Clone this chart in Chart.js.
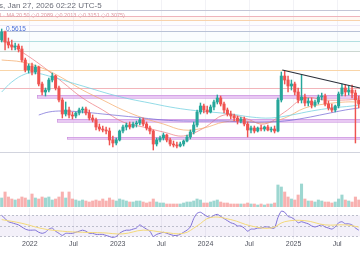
<!DOCTYPE html>
<html>
<head>
<meta charset="utf-8">
<script src="https://cdn.jsdelivr.net/npm/chart.js@4.4.1/dist/chart.umd.min.js"></script>
<style>
  body { margin: 0; background: #fff; width: 360px; height: 270px; overflow: hidden; position: relative; font-family: "Liberation Sans", Arial, sans-serif; }
  canvas { position: absolute; left: 0; }
  #price { top: 0; }
  #rsi { top: 208px; }
  .txt { position: absolute; white-space: nowrap; }
</style>
</head>
<body>
<canvas id="price" width="360" height="207"></canvas>
<canvas id="rsi" width="360" height="41"></canvas>
<div class="txt" style="left:-1px;top:1px;font-size:8px;color:#6a6d78">s, Jan 27, 2026 02:22 UTC-5</div>
<div class="txt" style="left:0;top:12px;font-size:5.5px;color:#dc9aa2">I · MA 20 50  ◇0.2089  ◇0.2013  ◇0.3151  ◇0.3075)</div>
<div class="txt" style="left:6px;top:25px;font-size:6.5px;color:#4a6fd8">0.5615</div>
<script>
// time: one candle every two weeks, first candle on START
const START = Date.UTC(2021, 8, 6);
const STEP = 14 * 86400000;
const idxOf = d => (Date.parse(d) - START) / STEP;
const VIEW_FROM = '2021-08-30';
const VIEW_TO = '2025-10-04';

const TICK_DATES = ['2022-01-01', '2022-07-01', '2023-01-01', '2023-07-01', '2024-01-01', '2024-07-01', '2025-01-01', '2025-07-01'];
const TICK_LABELS = ['2022', 'Jul', '2023', 'Jul', '2024', 'Jul', '2025', 'Jul'];

// candles
const OPEN = [
  .600, .640, .590, .575, .565, .570, .555, .500, .450, .470,
  .440, .465, .380, .340, .350, .400, .420, .360, .300, .230,
  .250, .225, .220, .235, .250, .255, .235, .210, .200, .165,
  .155, .150, .145, .100, .085, .100, .145, .165, .175, .165,
  .180, .185, .200, .180, .160, .145, .080, .100, .110, .125,
  .100, .080, .075, .070, .080, .095, .115, .140, .175, .240,
  .270, .250, .240, .265, .290, .310, .280, .250, .230, .220,
  .210, .195, .205, .180, .150, .160, .145, .160, .155, .165,
  .150, .155, .145, .300, .420, .400, .370, .380, .340, .300,
  .315, .285, .295, .275, .290, .315, .320, .280, .260, .250,
  .270, .330, .360, .340, .350, .335, .300
];
const HIGH = [
  .655, .645, .610, .600, .585, .580, .570, .510, .480, .485,
  .475, .470, .390, .360, .410, .435, .425, .370, .310, .290,
  .265, .240, .240, .260, .265, .265, .250, .225, .210, .180,
  .170, .165, .160, .120, .110, .150, .175, .185, .190, .190,
  .195, .210, .210, .190, .170, .150, .110, .120, .135, .130,
  .110, .095, .090, .090, .100, .125, .150, .190, .250, .285,
  .280, .270, .275, .300, .325, .320, .290, .260, .245, .230,
  .220, .215, .215, .190, .170, .170, .165, .175, .170, .175,
  .165, .170, .310, .440, .445, .420, .400, .390, .360, .425,
  .330, .310, .310, .300, .325, .335, .330, .295, .280, .275,
  .340, .380, .375, .370, .375, .350, .320
];
const LOW = [
  .590, .550, .560, .550, .550, .540, .490, .440, .435, .425,
  .430, .370, .325, .320, .340, .390, .350, .290, .210, .220,
  .210, .205, .210, .225, .235, .225, .200, .190, .150, .145,
  .140, .130, .075, .065, .075, .095, .135, .150, .155, .160,
  .165, .175, .170, .150, .130, .050, .070, .090, .100, .090,
  .070, .065, .060, .065, .070, .090, .105, .130, .165, .230,
  .235, .230, .235, .250, .280, .270, .235, .220, .205, .195,
  .180, .185, .170, .115, .135, .135, .140, .145, .145, .145,
  .140, .135, .140, .290, .380, .340, .350, .325, .285, .285,
  .270, .270, .260, .265, .280, .300, .270, .250, .240, .240,
  .260, .320, .320, .325, .310, .085, .260
];
const CLOSE = [
  .640, .590, .575, .565, .570, .555, .500, .450, .470, .440,
  .465, .380, .340, .350, .400, .420, .360, .300, .230, .250,
  .225, .220, .235, .250, .255, .235, .210, .200, .165, .155,
  .150, .145, .100, .085, .100, .145, .165, .175, .165, .180,
  .185, .200, .180, .160, .145, .080, .100, .110, .125, .100,
  .080, .075, .070, .080, .095, .115, .140, .175, .240, .270,
  .250, .240, .265, .290, .310, .280, .250, .230, .220, .210,
  .195, .205, .180, .150, .160, .145, .160, .155, .165, .150,
  .155, .145, .300, .420, .400, .370, .380, .340, .300, .315,
  .285, .295, .275, .290, .315, .320, .280, .260, .250, .270,
  .330, .360, .340, .350, .335, .300, .280
];
const VOLUME = [
  9, 15, 10, 8, 7, 8, 10, 9, 7, 13,
  9, 8, 10, 9, 10, 7, 8, 10, 15, 9,
  15, 8, 7, 6, 7, 6, 5, 6, 7, 6,
  8, 6, 9, 7, 6, 8, 7, 6, 5, 5,
  6, 6, 5, 4, 5, 8, 5, 4, 4, 3,
  3, 3, 3, 3, 4, 5, 5, 6, 8, 7,
  4, 4, 5, 6, 7, 5, 4, 4, 3, 3,
  3, 3, 3, 4, 3, 3, 2, 3, 2, 3,
  3, 4, 22, 20, 15, 10, 8, 7, 12, 23,
  8, 6, 6, 5, 7, 6, 5, 5, 4, 5,
  8, 12, 7, 6, 5, 10, 7
];
const RSI = [
  70, 64, 58, 56, 54, 52, 48, 44, 42, 42,
  42, 38, 36, 38, 44, 46, 40, 36, 32, 36,
  36, 36, 38, 40, 42, 40, 36, 36, 34, 34,
  34, 32, 30, 28, 30, 36, 40, 42, 42, 44,
  46, 52, 48, 44, 40, 30, 34, 36, 38, 36,
  34, 32, 32, 34, 38, 42, 48, 64, 74, 76,
  72, 68, 66, 70, 72, 68, 64, 60, 56, 54,
  50, 50, 46, 40, 44, 44, 46, 46, 48, 48,
  46, 46, 66, 78, 76, 68, 66, 62, 56, 58,
  56, 54, 50, 48, 50, 52, 48, 46, 44, 48,
  56, 58, 54, 54, 52, 46, 42
];

// moving averages, read at sample candles
const MA_RED_AT = [0, 6, 12, 18, 24, 30, 36, 42, 48, 54, 60, 66, 72, 78, 84, 90, 96, 102, 106];
const MA_RED = [.600, .540, .470, .390, .310, .250, .190, .165, .140, .120, .160, .225, .210, .180, .240, .310, .300, .300, .305];
const MA_ORANGE_AT = [0, 6, 12, 18, 24, 30, 36, 42, 48, 54, 60, 66, 72, 78, 84, 90, 96, 102, 106];
const MA_ORANGE = [.500, .490, .460, .410, .350, .300, .250, .210, .180, .150, .160, .190, .195, .185, .210, .260, .280, .290, .290];
const MA_TEAL_AT = [0, 3, 7, 10, 14, 20, 26, 32, 38, 44, 50, 56, 62, 68, 74, 80, 86, 92, 98, 104, 106];
const MA_TEAL = [.340, .390, .430, .435, .420, .390, .360, .330, .305, .285, .265, .250, .240, .230, .215, .210, .225, .245, .260, .270, .275];
const MA_PURPLE_AT = [11, 14, 18, 24, 30, 36, 42, 48, 54, 60, 66, 72, 78, 84, 90, 96, 102, 106];
const MA_PURPLE = [.225, .240, .245, .240, .230, .220, .210, .200, .195, .195, .195, .190, .190, .195, .210, .230, .250, .260];
const RSI_MA_AT = [0, 6, 12, 18, 24, 30, 36, 42, 48, 54, 58, 62, 68, 74, 80, 84, 90, 96, 102, 106];
const RSI_MA = [62, 55, 45, 40, 38, 37, 35, 42, 38, 36, 50, 66, 62, 50, 46, 58, 60, 52, 52, 48];

// drawings
const FIB_LEVELS = [0.750, 0.720, 0.700, 0.675, 0.645, 0.595, 0.545, 0.450, 0.360, 0.040];
const ZONE_FROM = ['2022-01-31', '2022-04-23', '2022-06-04'];
const ZONE_TOP = [0.325, 0.205, 0.115];
const ZONE_BOTTOM = [0.310, 0.190, 0.105];
const TREND_DATES = ['2024-11-15', '2025-10-04'];
const TREND_VALUES = [0.450, 0.360];

// styles
const UP = '#26a69a', DOWN = '#ef5350';
const FIB_COLORS = ['#c4c6d6', '#eeb4bb', '#f8d2ab', '#ece8f5', '#b8c2d6', '#b3dfe1', '#ccd7d1', '#f9d5a8', '#f2b5ba', '#d2d4de'];
const FIB_FILLS = [[1, 2, 'rgba(255,205,160,0.14)'], [2, 4, 'rgba(200,190,240,0.04)'], [4, 5, 'rgba(150,220,230,0.05)'], [5, 6, 'rgba(150,220,230,0.07)']];
const ZONE_FILL = 'rgba(222,176,238,0.7)';
const ZONE_EDGE = 'rgba(196,132,218,0.85)';
const GRID = '#f2f2f6';

const isUp = i => CLOSE[i] >= OPEN[i];
const pts = (at, vals) => at.map((i, k) => ({x: i, y: vals[k]}));

const timeAxis = showLabels => ({
  type: 'linear',
  min: idxOf(VIEW_FROM),
  max: idxOf(VIEW_TO),
  offset: false,
  afterBuildTicks: s => { s.ticks = TICK_DATES.map(d => ({value: idxOf(d)})); },
  grid: {color: GRID, drawTicks: false, offset: false},
  border: {display: false},
  ticks: {
    display: showLabels,
    autoSkip: false,
    maxRotation: 0,
    padding: 1,
    color: '#50535e',
    font: {size: 7},
    callback: (v, k) => TICK_LABELS[k]
  }
});

const levelsPlugin = {
  id: 'levels',
  beforeDatasetsDraw(chart) {
    const {ctx, chartArea: {left, right}, scales: {x, y}} = chart;
    ctx.save();
    FIB_FILLS.forEach(([a, b, c]) => {
      const ya = y.getPixelForValue(FIB_LEVELS[a]);
      const yb = y.getPixelForValue(FIB_LEVELS[b]);
      ctx.fillStyle = c;
      ctx.fillRect(left, ya, right - left, yb - ya);
    });
    FIB_LEVELS.forEach((v, k) => {
      const py = Math.round(y.getPixelForValue(v)) + 0.5;
      ctx.strokeStyle = FIB_COLORS[k];
      ctx.lineWidth = 1;
      ctx.beginPath();
      ctx.moveTo(left, py);
      ctx.lineTo(right, py);
      ctx.stroke();
    });
    ZONE_FROM.forEach((d, k) => {
      const x0 = Math.round(x.getPixelForValue(idxOf(d)));
      const y0 = Math.round(y.getPixelForValue(ZONE_TOP[k]));
      const y1 = Math.round(y.getPixelForValue(ZONE_BOTTOM[k]));
      ctx.fillStyle = ZONE_FILL;
      ctx.fillRect(x0, y0, right - x0, y1 - y0);
      ctx.strokeStyle = ZONE_EDGE;
      ctx.lineWidth = 0.6;
      ctx.strokeRect(x0 + 0.5, y0 + 0.5, right - x0, y1 - y0);
    });
    ctx.restore();
  }
};

const maLine = (at, vals, color, order) => ({
  type: 'line',
  data: pts(at, vals),
  borderColor: color,
  borderWidth: 1,
  pointRadius: 0,
  tension: 0.4,
  yAxisID: 'y',
  order
});

new Chart(document.getElementById('price'), {
  type: 'bar',
  data: {
    datasets: [
      {
        data: VOLUME.map((v, i) => ({x: i, y: v})),
        yAxisID: 'yv',
        backgroundColor: VOLUME.map((v, i) => isUp(i) ? 'rgba(38,166,154,0.45)' : 'rgba(239,83,80,0.45)'),
        barThickness: 2.4,
        grouped: false,
        order: 9
      },
      maLine(MA_PURPLE_AT, MA_PURPLE, 'rgba(120,110,215,0.75)', 6),
      maLine(MA_TEAL_AT, MA_TEAL, 'rgba(120,210,225,0.8)', 6),
      maLine(MA_ORANGE_AT, MA_ORANGE, 'rgba(244,172,110,0.75)', 6),
      maLine(MA_RED_AT, MA_RED, 'rgba(238,120,126,0.7)', 6),
      {
        data: LOW.map((l, i) => ({x: i, y: [l, HIGH[i]]})),
        yAxisID: 'y',
        backgroundColor: LOW.map((l, i) => isUp(i) ? UP : DOWN),
        barThickness: 0.8,
        grouped: false,
        order: 3
      },
      {
        data: OPEN.map((o, i) => ({x: i, y: [o, CLOSE[i]]})),
        yAxisID: 'y',
        backgroundColor: OPEN.map((o, i) => isUp(i) ? UP : DOWN),
        barThickness: 2.4,
        minBarLength: 1,
        grouped: false,
        order: 2
      },
      {
        type: 'line',
        data: TREND_DATES.map((d, k) => ({x: idxOf(d), y: TREND_VALUES[k]})),
        borderColor: '#2a2e39',
        borderWidth: 1.2,
        pointRadius: 0,
        yAxisID: 'y',
        order: 0
      }
    ]
  },
  options: {
    responsive: false,
    animation: false,
    layout: {padding: 0},
    plugins: {legend: {display: false}, tooltip: {enabled: false}},
    scales: {
      x: timeAxis(false),
      y: {display: false, min: -0.235, max: 0.8},
      yv: {display: false, min: 0, max: 207}
    }
  },
  plugins: [levelsPlugin]
});

const rsiBand = {
  id: 'rsiBand',
  beforeDatasetsDraw(chart) {
    const {ctx, chartArea: {left, right}, scales: {y}} = chart;
    const y70 = y.getPixelForValue(70), y30 = y.getPixelForValue(30);
    ctx.save();
    ctx.fillStyle = 'rgba(126,87,194,0.09)';
    ctx.fillRect(left, y70, right - left, y30 - y70);
    ctx.strokeStyle = '#a6a9b8';
    ctx.lineWidth = 0.7;
    ctx.setLineDash([2, 2]);
    [70, 50, 30].forEach(v => {
      const py = Math.round(y.getPixelForValue(v)) + 0.5;
      ctx.beginPath();
      ctx.moveTo(left, py);
      ctx.lineTo(right, py);
      ctx.stroke();
    });
    ctx.restore();
  }
};

new Chart(document.getElementById('rsi'), {
  type: 'line',
  data: {
    datasets: [
      {
        data: pts(RSI_MA_AT, RSI_MA),
        borderColor: '#f3d97a',
        borderWidth: 1,
        pointRadius: 0,
        tension: 0.4
      },
      {
        data: RSI.map((v, i) => ({x: i, y: v})),
        borderColor: '#7e6fd6',
        borderWidth: 1,
        pointRadius: 0,
        tension: 0.2
      }
    ]
  },
  options: {
    responsive: false,
    animation: false,
    layout: {padding: 0},
    plugins: {legend: {display: false}, tooltip: {enabled: false}},
    scales: {
      x: timeAxis(true),
      y: {display: false, min: 26, max: 84}
    }
  },
  plugins: [rsiBand]
});
</script>
</body>
</html>
